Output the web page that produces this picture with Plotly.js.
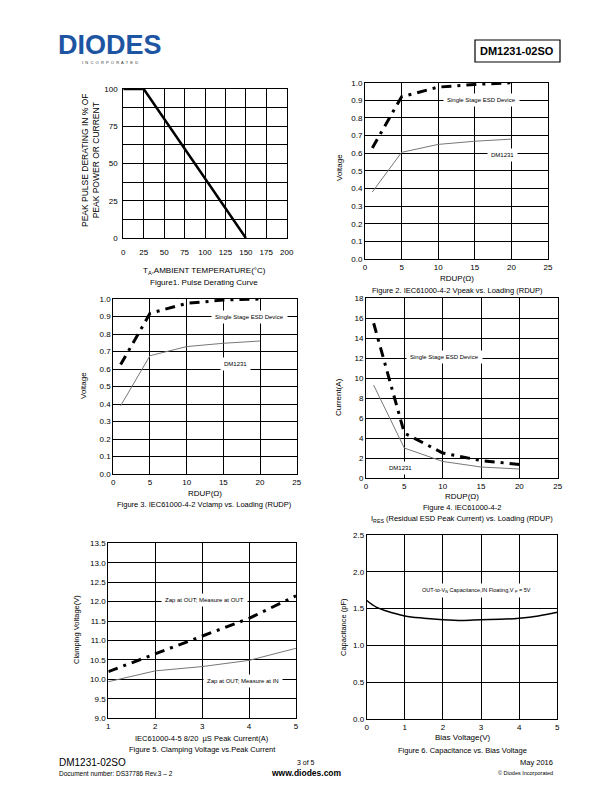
<!DOCTYPE html>
<html>
<head>
<meta charset="utf-8">
<script src="https://cdn.plot.ly/plotly-3.0.1.min.js"></script>
<style>html,body{margin:0;padding:0;background:#fff;}#chart{width:612px;height:792px;}</style>
</head>
<body>
<div id="chart"></div>
<script>
// ---- data ----
const fig1Temp = [0, 25, 150];
const fig1Derating = [100, 100, 0];

const rdup = [1, 5, 10, 15, 20];
const fig2Single = [0.63, 0.92, 0.975, 0.99, 1.0];
const fig2DM1231 = [0.38, 0.605, 0.65, 0.668, 0.68];
const fig3Single = [0.625, 0.918, 0.975, 0.994, 1.0];
const fig3DM1231 = [0.39, 0.676, 0.728, 0.747, 0.76];
const fig4Single = [15.5, 4.5, 2.5, 1.75, 1.35];
const fig4DM1231 = [9.3, 3.0, 1.66, 1.1, 0.9];

const peakCurrent = [1, 2, 3, 4, 5];
const fig5OutOut = [10.2, 10.65, 11.1, 11.57, 12.15];
const fig5OutIn = [9.94, 10.22, 10.33, 10.49, 10.8];

const biasVoltage = [0, 0.25, 0.5, 1, 1.5, 2, 2.5, 3, 3.5, 4, 4.5, 5];
const capacitance = [1.61, 1.52, 1.47, 1.40, 1.37, 1.35, 1.34, 1.35, 1.355, 1.37, 1.40, 1.45];

// ---- layout helpers ----
const W = 612, H = 792;
const FONT = 'Liberation Sans, Arial, sans-serif';
const px = x => x / W;
const py = y => 1 - y / H;

const thick = {color: '#000', width: 3, dash: '10px,6px,3px,6px'};
const thin = {color: '#777', width: 1};

function axis(domain, range, dtick, opts) {
  return Object.assign({
    domain: domain, range: range, dtick: dtick, tick0: range[0],
    showgrid: true, gridcolor: '#000', gridwidth: 1,
    showline: true, linecolor: '#000', linewidth: 1, mirror: true,
    zeroline: false, ticks: '', fixedrange: true,
    tickfont: {family: FONT, size: 8, color: '#000'}
  }, opts || {});
}

const traces = [
  {x: fig1Temp, y: fig1Derating, xaxis: 'x', yaxis: 'y', mode: 'lines', line: {color: '#000', width: 2.5}},
  {x: rdup, y: fig2Single, xaxis: 'x2', yaxis: 'y2', mode: 'lines', line: thick},
  {x: rdup, y: fig2DM1231, xaxis: 'x2', yaxis: 'y2', mode: 'lines', line: thin},
  {x: rdup, y: fig3Single, xaxis: 'x3', yaxis: 'y3', mode: 'lines', line: thick},
  {x: rdup, y: fig3DM1231, xaxis: 'x3', yaxis: 'y3', mode: 'lines', line: thin},
  {x: rdup, y: fig4Single, xaxis: 'x4', yaxis: 'y4', mode: 'lines', line: thick},
  {x: rdup, y: fig4DM1231, xaxis: 'x4', yaxis: 'y4', mode: 'lines', line: thin},
  {x: peakCurrent, y: fig5OutOut, xaxis: 'x5', yaxis: 'y5', mode: 'lines', line: thick},
  {x: peakCurrent, y: fig5OutIn, xaxis: 'x5', yaxis: 'y5', mode: 'lines', line: thin},
  {x: biasVoltage, y: capacitance, xaxis: 'x6', yaxis: 'y6', mode: 'lines', line: {color: '#000', width: 1.5, shape: 'spline'}}
];

function txt(x, y, text, size, extra) {
  return Object.assign({xref: 'paper', yref: 'paper', x: px(x), y: py(y), text: text,
    showarrow: false, font: {family: FONT, size: size, color: '#000'},
    xanchor: 'center', yanchor: 'middle'}, extra || {});
}
function lab(ax, x, y, text, size) {
  return {xref: ax[0], yref: ax[1], x: x, y: y, text: text, showarrow: false,
    font: {family: FONT, size: size || 6, color: '#000'}, bgcolor: '#fff', borderpad: 3,
    xanchor: 'center', yanchor: 'middle'};
}

const annotations = [
  // header
  txt(110, 45, '<b>DIODES</b>', 27, {font: {family: FONT, size: 27, color: '#1d55a3'}}),
  txt(110, 62.5, 'I  N  C  O  R  P  O  R  A  T  E  D', 4, {font: {family: FONT, size: 4, color: '#333'}}),
  txt(517, 51, '<b>DM1231-02SO</b>', 11),
  // fig 1
  txt(91, 160, 'PEAK PULSE DERATING IN % OF<br>PEAK POWER OR CURRENT', 8.5, {textangle: -90}),
  txt(204, 271, 'T<sub>A</sub>,AMBIENT TEMPERATURE(°C)', 8),
  txt(204, 282, 'Figure1. Pulse Derating Curve', 8),
  // fig 2
  txt(339, 168, 'Voltage', 8, {textangle: -90}),
  txt(457, 278, 'RDUP(Ω)', 8),
  txt(457, 290, 'Figure 2. IEC61000-4-2 Vpeak vs. Loading (RDUP)', 7.5),
  lab(['x2', 'y2'], 15.9, 0.9, 'Single Stage ESD Device'),
  lab(['x2', 'y2'], 18.8, 0.59, 'DM1231'),
  // fig 3
  txt(83, 386, 'Voltage', 8, {textangle: -90}),
  txt(205, 493, 'RDUP(Ω)', 8),
  txt(205, 504, 'Figure 3. IEC61000-4-2 Vclamp vs. Loading (RUDP)', 7.5),
  lab(['x3', 'y3'], 18.5, 0.9, 'Single Stage ESD Device'),
  lab(['x3', 'y3'], 16.7, 0.63, 'DM1231'),
  // fig 4
  txt(338, 397, 'Current(A)', 8, {textangle: -90}),
  txt(462, 497, 'RDUP(Ω)', 8),
  txt(462, 507, 'Figure 4. IEC61000-4-2', 7.5),
  txt(462, 519, 'I<sub>RES</sub> (Residual ESD Peak Current) vs. Loading (RDUP)', 7.5),
  lab(['x4', 'y4'], 10.3, 12.1, 'Single Stage ESD Device'),
  lab(['x4', 'y4'], 4.5, 1.0, 'DM1231'),
  // fig 5
  txt(76, 630, 'Clamping Voltage(V)', 7.5, {textangle: -90}),
  txt(202, 738, 'IEC61000-4-5 8/20  µS Peak Current(A)', 7.5),
  txt(202, 749, 'Figure 5. Clamping Voltage vs.Peak Current', 7.5),
  lab(['x5', 'y5'], 3.05, 12.04, 'Zap at OUT; Measure at OUT'),
  lab(['x5', 'y5'], 3.88, 9.96, 'Zap at OUT; Measure at IN'),
  // fig 6
  txt(343, 627, 'Capacitance (pF)', 7.5, {textangle: -90}),
  txt(462, 737, 'Bias Voltage(V)', 8),
  txt(462, 750, 'Figure 6. Capacitance vs. Bias Voltage', 7.5),
  lab(['x6', 'y6'], 2.88, 1.74, 'OUT-to-V<sub>N</sub> Capacitance,IN Floating,V <sub>P</sub> = 5V', 5.5),
  // footer
  txt(57, 762, 'DM1231-02SO', 10, {xanchor: 'left'}),
  txt(57, 773, 'Document number: DS37786 Rev.3 – 2', 6.5, {xanchor: 'left'}),
  txt(306, 762, '3 of 5', 7),
  txt(306, 773, '<b>www.diodes.com</b>', 8.5),
  txt(555, 762, 'May 2016', 7.5, {xanchor: 'right'}),
  txt(555, 773, '© Diodes Incorporated', 5.5, {xanchor: 'right'})
];

const layout = {
  width: W, height: H,
  margin: {l: 0, r: 0, t: 0, b: 0},
  paper_bgcolor: '#fff', plot_bgcolor: '#fff',
  showlegend: false,
  font: {family: FONT, color: '#000'},
  xaxis: axis([px(123.3), px(286.7)], [0, 200], 25, {anchor: 'y', ticklabelstandoff: 6}),
  yaxis: axis([py(238), py(89)], [0, 100], 25, {anchor: 'x', ticklabelstandoff: 3,
    minor: {dtick: 12.5, tick0: 0, showgrid: true, gridcolor: '#000', gridwidth: 1, ticks: ''}}),
  xaxis2: axis([px(365), px(548)], [0, 25], 5, {anchor: 'y2'}),
  yaxis2: axis([py(259), py(82.7)], [0, 1], 0.1, {anchor: 'x2', tickformat: '.1f'}),
  xaxis3: axis([px(113.3), px(296.7)], [0, 25], 5, {anchor: 'y3'}),
  yaxis3: axis([py(474), py(299)], [0, 1], 0.1, {anchor: 'x3', tickformat: '.1f'}),
  xaxis4: axis([px(366), px(557.7)], [0, 25], 5, {anchor: 'y4'}),
  yaxis4: axis([py(478), py(298.3)], [0, 18], 2, {anchor: 'x4'}),
  xaxis5: axis([px(108.3), px(296)], [1, 5], 1, {anchor: 'y5'}),
  yaxis5: axis([py(718.3), py(543.3)], [9, 13.5], 0.5, {anchor: 'x5', tickformat: '.1f'}),
  xaxis6: axis([px(366.7), px(557.3)], [0, 5], 1, {anchor: 'y6'}),
  yaxis6: axis([py(719), py(535)], [0, 2.5], 0.5, {anchor: 'x6', tickformat: '.1f'}),
  annotations: annotations,
  shapes: [
    {type: 'rect', xref: 'paper', yref: 'paper', x0: px(475), x1: px(560), y0: py(62), y1: py(40),
     line: {color: '#000', width: 1.2}}
  ]
};

Plotly.newPlot('chart', traces, layout, {staticPlot: true, displayModeBar: false});
</script>
</body>
</html>
